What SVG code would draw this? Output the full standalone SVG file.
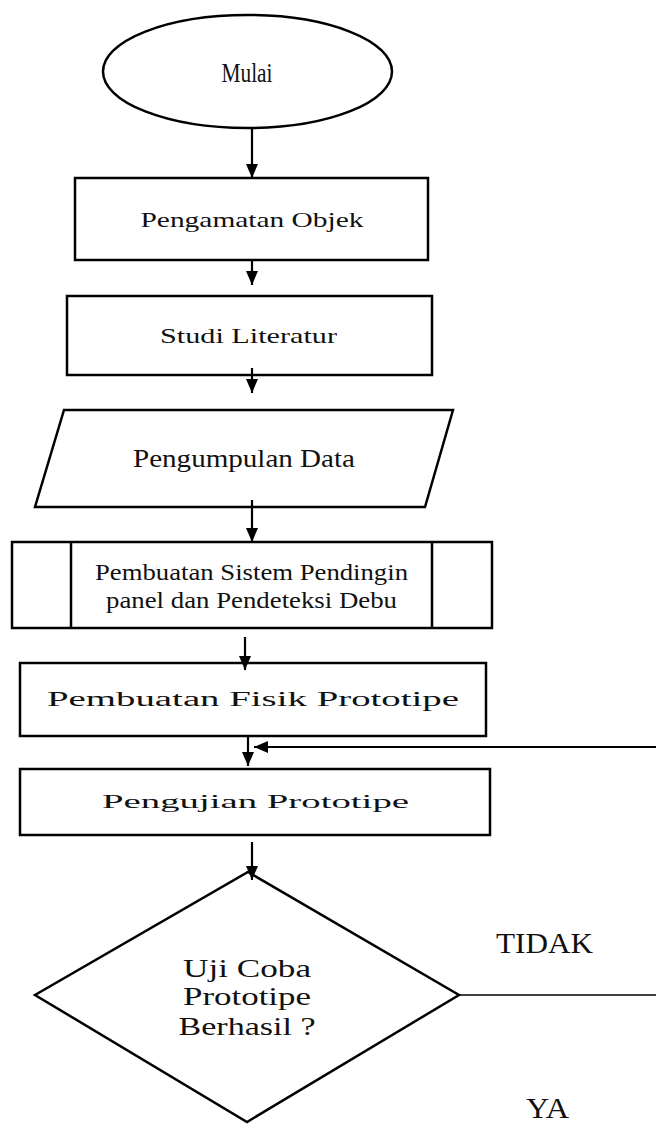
<svg xmlns="http://www.w3.org/2000/svg" width="656" height="1124" viewBox="0 0 656 1124">
<style>
.shape{fill:#fff;stroke:#000;stroke-width:2.5}
.t{font-family:"Liberation Serif","Times New Roman",serif;fill:#111;text-anchor:middle}
.c{stroke:#000;stroke-width:2.2;fill:none}
.thin{stroke:#000;stroke-width:1.6;fill:none}
</style>
<defs>
<marker id="ah" viewBox="0 0 14 12" refX="14" refY="6" markerWidth="14" markerHeight="12" markerUnits="userSpaceOnUse" orient="auto">
<path d="M0,0 L14,6 L0,12 z" fill="#000"/>
</marker>
</defs>
<rect width="656" height="1124" fill="#fff"/>
<g id="mulai">
<ellipse class="shape" cx="247.5" cy="71.5" rx="144.5" ry="56.5" stroke-width="3"/>
<text class="t" x="247" y="82" font-size="28" textLength="51" lengthAdjust="spacingAndGlyphs">Mulai</text>
</g>
<g id="pengamatan">
<rect class="shape" x="75" y="178" width="353" height="82"/>
<text class="t" x="252" y="227" font-size="21" textLength="223" lengthAdjust="spacingAndGlyphs">Pengamatan Objek</text>
</g>
<g id="studi">
<rect class="shape" x="67" y="296" width="365" height="79"/>
<text class="t" x="248.5" y="343" font-size="22" textLength="177" lengthAdjust="spacingAndGlyphs">Studi Literatur</text>
</g>
<g id="pengumpulan">
<polygon class="shape" points="64,410 453,410 425,507 35,507"/>
<text class="t" x="244" y="467" font-size="25" textLength="222" lengthAdjust="spacingAndGlyphs">Pengumpulan Data</text>
</g>
<g id="pembuatan-sistem">
<rect class="shape" x="12" y="542" width="480" height="86"/>
<line class="shape" x1="71" y1="542" x2="71" y2="628" stroke-width="2"/>
<line class="shape" x1="432" y1="542" x2="432" y2="628" stroke-width="2"/>
<text class="t" x="251.5" y="580" font-size="24" textLength="313" lengthAdjust="spacingAndGlyphs">Pembuatan Sistem Pendingin</text>
<text class="t" x="251.5" y="608" font-size="24" textLength="291" lengthAdjust="spacingAndGlyphs">panel dan Pendeteksi Debu</text>
</g>
<g id="pembuatan-fisik">
<rect class="shape" x="20" y="663" width="466" height="73"/>
<text class="t" x="253" y="706" font-size="20" textLength="412" lengthAdjust="spacingAndGlyphs">Pembuatan Fisik Prototipe</text>
</g>
<g id="pengujian">
<rect class="shape" x="20" y="769" width="470" height="66"/>
<text class="t" x="255.5" y="808" font-size="19" textLength="307" lengthAdjust="spacingAndGlyphs">Pengujian Prototipe</text>
</g>
<g id="keputusan">
<polygon class="shape" points="248,872 459,995 247,1122 35,995"/>
<text class="t" x="247" y="977" font-size="26" textLength="128" lengthAdjust="spacingAndGlyphs">Uji Coba</text>
<text class="t" x="247" y="1005" font-size="26" textLength="128" lengthAdjust="spacingAndGlyphs">Prototipe</text>
<text class="t" x="247" y="1035" font-size="26" textLength="137" lengthAdjust="spacingAndGlyphs">Berhasil ?</text>
</g>
<g id="labels">
<text class="t" x="544.5" y="953" font-size="30" textLength="97" lengthAdjust="spacingAndGlyphs">TIDAK</text>
<text class="t" x="547.5" y="1118" font-size="29" textLength="43" lengthAdjust="spacingAndGlyphs">YA</text>
</g>
<g id="connectors">
<line class="c" x1="252" y1="128" x2="252" y2="178" marker-end="url(#ah)"/>
<line class="c" x1="252" y1="261" x2="252" y2="285" marker-end="url(#ah)"/>
<line class="c" x1="252" y1="368" x2="252" y2="393" marker-end="url(#ah)"/>
<line class="c" x1="252" y1="500" x2="252" y2="542" marker-end="url(#ah)"/>
<line class="c" x1="245" y1="637" x2="245" y2="670" marker-end="url(#ah)"/>
<line class="c" x1="248" y1="736" x2="248" y2="766" marker-end="url(#ah)"/>
<line class="c" x1="656" y1="747" x2="254" y2="747" marker-end="url(#ah)"/>
<line class="c" x1="252" y1="842" x2="252" y2="880" marker-end="url(#ah)"/>
<line class="thin" x1="459" y1="995" x2="656" y2="995"/>
</g>
</svg>
